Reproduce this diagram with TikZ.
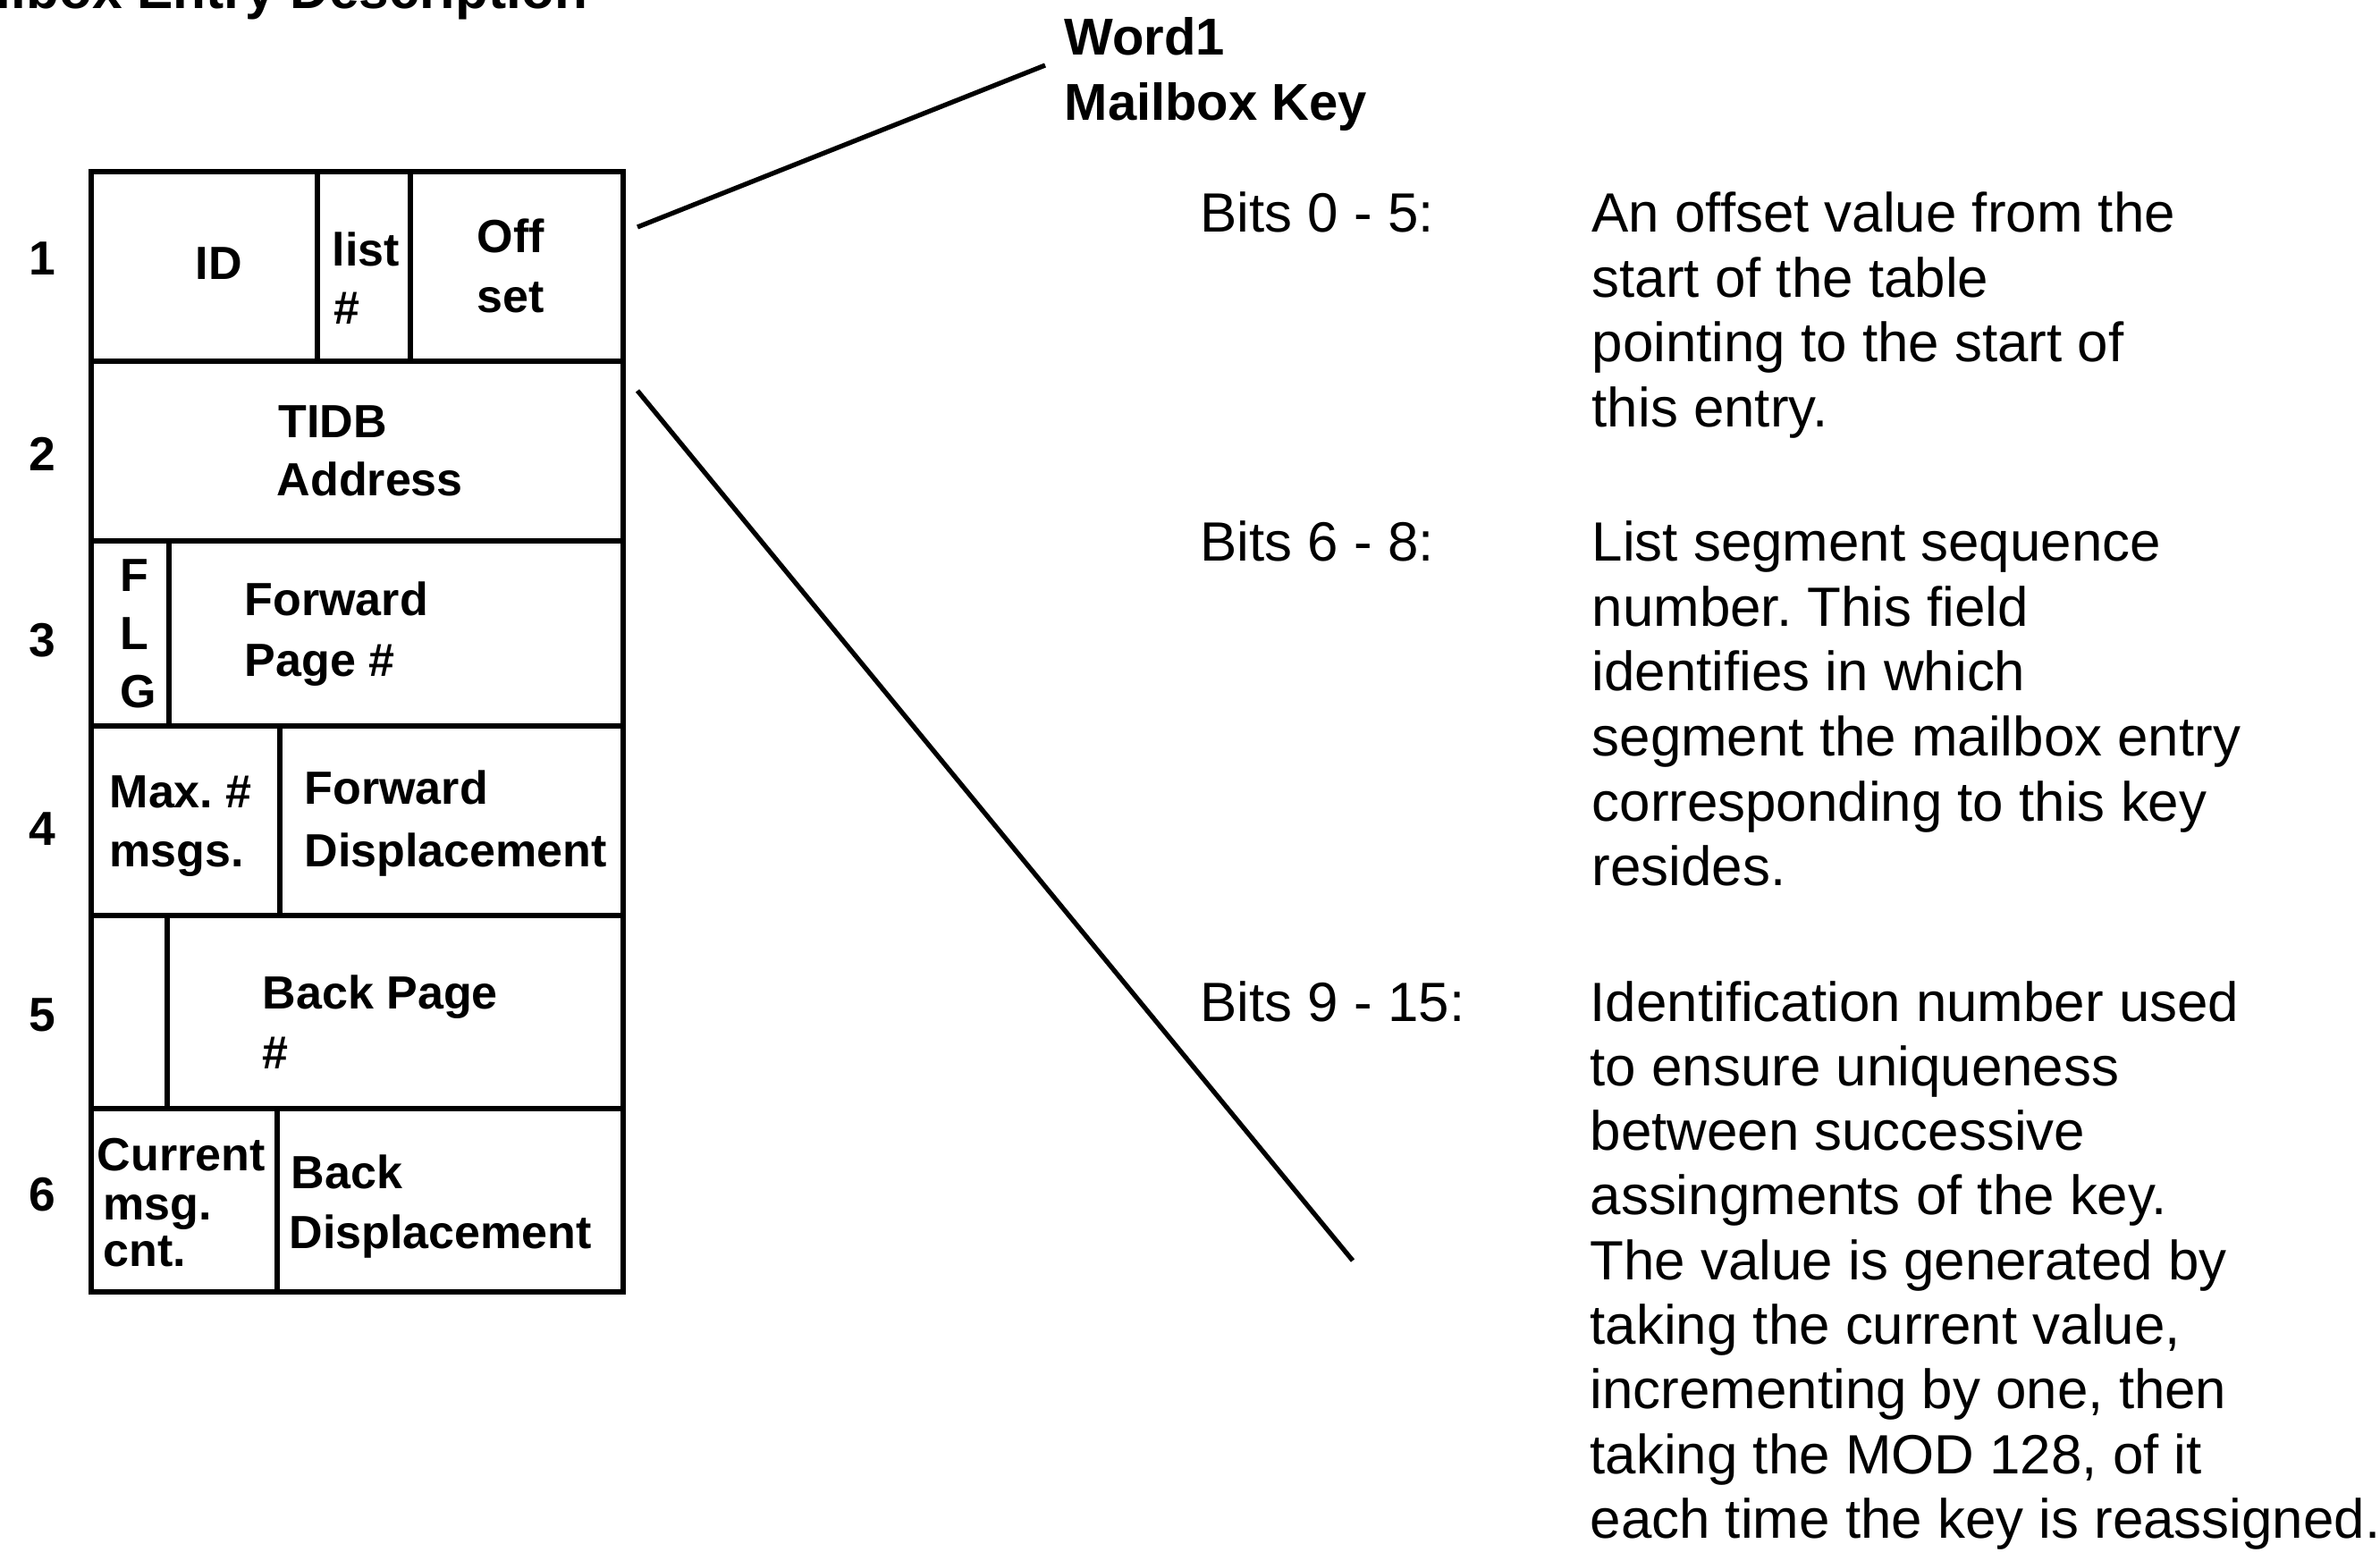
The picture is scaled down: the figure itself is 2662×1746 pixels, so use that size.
\documentclass[tikz,border=0pt]{standalone}
\usepackage{fontspec}
\setmainfont{Liberation Sans}
\usetikzlibrary{fit}
\frenchspacing

% one table cell as a named rectangle between two corners
\newcommand\tabcell[5]{%
  \coordinate (#1-nw) at (#2,#3);
  \coordinate (#1-se) at (#4,#5);
  \node[cellbox, fit=(#1-nw)(#1-se)] (#1) {};
}

\begin{document}
\begin{tikzpicture}[x=0.1mm, y=-0.1mm,
  cellbox/.style={draw, line width=1.6pt, inner sep=0pt, rectangle},
  lbl/.style={font=\fontsize{14.8}{17}\selectfont\bfseries, inner sep=0pt, anchor=base west},
  rownum/.style={font=\fontsize{15.2}{17}\selectfont\bfseries, inner sep=0pt},
  head/.style={font=\fontsize{16.5}{19}\selectfont\bfseries, inner sep=0pt, anchor=base west},
  desc/.style={font=\fontsize{17.6}{20.6}\selectfont, inner sep=0pt, anchor=base west},
  leader/.style={line width=1.5pt}]
\useasboundingbox (0,0) rectangle (2662,1746);

% heading, partly cut by the page edge
\node[head, font=\fontsize{17.2}{19}\selectfont\bfseries, anchor=base east] (title) at (658,10) {Mailbox Entry Description};

% the six words of the entry
\tabcell{id}{102}{192}{355}{404}
\tabcell{list}{355}{192}{459}{404}
\tabcell{off}{459}{192}{697}{404}
\tabcell{tidb}{102}{404}{697}{605}
\tabcell{flg}{102}{605}{189}{812}
\tabcell{fwdpg}{189}{605}{697}{812}
\tabcell{maxm}{102}{812}{313}{1024}
\tabcell{fwdd}{313}{812}{697}{1024}
\tabcell{spare}{102}{1024}{187}{1240}
\tabcell{bkpg}{187}{1024}{697}{1240}
\tabcell{curm}{102}{1240}{310}{1445}
\tabcell{bkd}{310}{1240}{697}{1445}

% word numbers
\node[rownum] (n1) at (47,289) {1};
\node[rownum] (n2) at (47,508) {2};
\node[rownum] (n3) at (47,716) {3};
\node[rownum] (n4) at (47,927) {4};
\node[rownum] (n5) at (47,1135) {5};
\node[rownum] (n6) at (47,1336) {6};

% field names
\node[lbl] (tid) at (218,313) {ID};
\node[lbl] (tlist) at (371,298) {list};
\node[lbl] (tlisth) at (373,363) {\#};
\node[lbl] (toff) at (533,283) {Off};
\node[lbl] (tset) at (533,350) {set};
\node[lbl] (ttidb) at (311,490) {TIDB};
\node[lbl] (taddr) at (309,555) {Address};
\node[lbl] (tf) at (134,662) {F};
\node[lbl] (tl) at (134,727) {L};
\node[lbl] (tg) at (134,792) {G};
\node[lbl] (tfw1) at (273,689) {Forward};
\node[lbl] (tpg1) at (273,757) {Page \#};
\node[lbl] (tmax) at (122,903) {Max. \#};
\node[lbl] (tmsgs) at (122,970) {msgs.};
\node[lbl] (tfw2) at (340,900) {Forward};
\node[lbl] (tdisp1) at (340,970) {Displacement};
\node[lbl] (tbkpg) at (293,1128) {Back Page};
\node[lbl] (tbkh) at (293,1195) {\#};
\node[lbl] (tcur) at (108,1309) {Current};
\node[lbl] (tmsg) at (115,1364) {msg.};
\node[lbl] (tcnt) at (115,1416) {cnt.};
\node[lbl] (tback) at (325,1329) {Back};
\node[lbl] (tdisp2) at (323,1396) {Displacement};

% callout heading
\node[head] (word) at (1190,62) {Word1};
\node[head] (mkey) at (1190,135) {Mailbox Key};

% callout lines
\coordinate (upA) at (713,254);
\coordinate (upB) at (1169,73);
\coordinate (loA) at (713,437);
\coordinate (loB) at (1513,1410);
\draw[leader] (upA) -- (upB);
\draw[leader] (loA) -- (loB);

% bit ranges
\node[desc] (b1) at (1342,260) {Bits 0 - 5:};
\node[desc] (b2) at (1342,628) {Bits 6 - 8:};
\node[desc] (b3) at (1342,1142) {Bits 9 - 15:};

\foreach \t [count=\i] in {An offset value from the, start of the table,
    pointing to the start of, this entry.}
  \node[desc] (dA\i) at (1780,{260+72.5*(\i-1)}) {\t};

\foreach \t [count=\i] in {List segment sequence, number. This field,
    identifies in which, segment the mailbox entry,
    corresponding to this key, resides.}
  \node[desc] (dB\i) at (1780,{628+72.5*(\i-1)}) {\t};

\foreach \t [count=\i] in {Identification number used, to ensure uniqueness,
    between successive, assingments of the key.,
    The value is generated by, {taking the current value,},
    {incrementing by one, then}, {taking the MOD 128, of it},
    each time the key is reassigned.}
  \node[desc] (dC\i) at (1778,{1142+72.3*(\i-1)}) {\t};

\end{tikzpicture}
\end{document}
